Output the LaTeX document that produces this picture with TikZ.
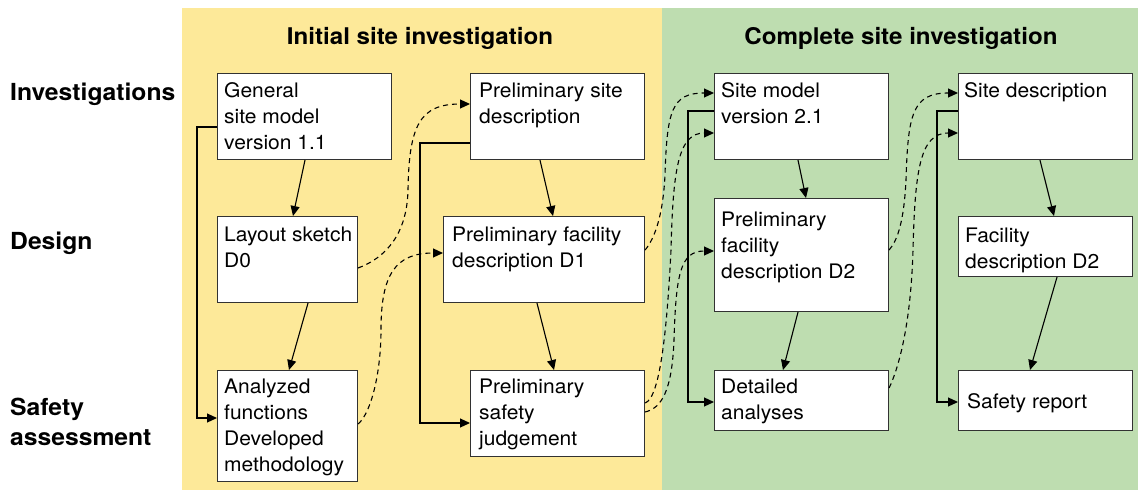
\documentclass[tikz,border=0pt]{standalone}
\usepackage{fontspec}
\setmainfont{TeX Gyre Heros}[FakeStretch=1.05]
\usetikzlibrary{arrows.meta,calc}
\definecolor{panelyellow}{RGB}{253,233,153}
\definecolor{panelgreen}{RGB}{190,221,176}
\definecolor{boxline}{RGB}{50,50,50}
\newcommand\boxtext[1]{\begin{tabular}[t]{@{}l@{}}#1\end{tabular}}

\begin{document}
\begin{tikzpicture}[x=1pt,y=-1pt,
  box/.style={draw=boxline, line width=1.1pt, fill=white, anchor=north west, inner sep=0pt},
  txt/.style={anchor=base west, inner sep=0pt, font=\fontsize{20}{26}\selectfont},
  head/.style={anchor=base, inner sep=0pt, font=\fontsize{23}{30}\selectfont\bfseries},
  rowlabel/.style={anchor=base west, inner sep=0pt, font=\fontsize{23.5}{30}\selectfont\bfseries},
  flow/.style={line width=1.1pt, -{Triangle[length=10pt,width=9pt]}},
  feed/.style={flow, line width=1.1pt, dash pattern=on 5pt off 4pt}]

\useasboundingbox (0,0) rectangle (1138,492);
\fill[white] (0,0) rectangle (1138,492);

% phase panels
\fill[panelyellow] (182,8) rectangle (662,490);
\fill[panelgreen] (662,8) rectangle (1138,490);

% headings
\node[head] (h1) at (420,45) {Initial site investigation};
\node[head] (h2) at (901,45) {Complete site investigation};
\node[rowlabel] (r1) at (10,101) {Investigations};
\node[rowlabel] (r2) at (10,249) {Design};
\node[rowlabel] (r3) at (10,415) {\boxtext{Safety\\assessment}};

% boxes
\node[box, minimum width=174pt, minimum height=86pt]  (gsm)  at (217,73)  {};
\node[box, minimum width=140pt, minimum height=86pt]  (ls)   at (217,216) {};
\node[box, minimum width=140pt, minimum height=111pt] (af)   at (217,370) {};
\node[box, minimum width=174pt, minimum height=86pt]  (psd)  at (470,73)  {};
\node[box, minimum width=201pt, minimum height=86pt]  (pfd1) at (443,216) {};
\node[box, minimum width=174pt, minimum height=86pt]  (psj)  at (470,370) {};
\node[box, minimum width=174pt, minimum height=86pt]  (sm2)  at (714,73)  {};
\node[box, minimum width=174pt, minimum height=113pt] (pfd2) at (714,198) {};
\node[box, minimum width=174pt, minimum height=60pt]  (da)   at (714,370) {};
\node[box, minimum width=174pt, minimum height=86pt]  (sd)   at (958,73)  {};
\node[box, minimum width=174pt, minimum height=60pt]  (fd2)  at (958,216) {};
\node[box, minimum width=174pt, minimum height=60pt]  (sr)   at (958,370) {};

% box texts
\node[txt] (gsm-t)  at ($(gsm.north west)+(7,25)$)  {\boxtext{General\\site model\\version 1.1}};
\node[txt] (ls-t)   at ($(ls.north west)+(7,25)$)   {\boxtext{Layout sketch\\D0}};
\node[txt] (af-t)   at ($(af.north west)+(7,23)$)   {\boxtext{Analyzed\\functions\\Developed\\methodology}};
\node[txt] (psd-t)  at ($(psd.north west)+(9,25)$)  {\boxtext{Preliminary site\\description}};
\node[txt] (pfd1-t) at ($(pfd1.north west)+(9,25)$) {\boxtext{Preliminary facility\\description D1}};
\node[txt] (psj-t)  at ($(psj.north west)+(9,23)$)  {\boxtext{Preliminary\\safety\\judgement}};
\node[txt] (sm2-t)  at ($(sm2.north west)+(7,25)$)  {\boxtext{Site model\\version 2.1}};
\node[txt] (pfd2-t) at ($(pfd2.north west)+(7,28)$) {\boxtext{Preliminary\\facility\\description D2}};
\node[txt] (da-t)   at ($(da.north west)+(7,23)$)   {\boxtext{Detailed\\analyses}};
\node[txt] (sd-t)   at ($(sd.north west)+(6,25)$)   {Site description};
\node[txt] (fd2-t)  at ($(fd2.north west)+(7,26)$)  {\boxtext{Facility\\description D2}};
\node[txt] (sr-t)   at ($(sr.north west)+(9,38)$)   {Safety report};

% main flow within each column
\draw[flow] ($(gsm.south west)+(88,0)$)  -- ($(ls.north west)+(76,0)$);
\draw[flow] ($(ls.south west)+(91,0)$)   -- ($(af.north west)+(72,0)$);
\draw[flow] ($(psd.south west)+(70,0)$)  -- ($(pfd1.north west)+(110,0)$);
\draw[flow] ($(pfd1.south west)+(94,0)$) -- ($(psj.north west)+(84,0)$);
\draw[flow] ($(sm2.south west)+(84,0)$)  -- ($(pfd2.north west)+(92,0)$);
\draw[flow] ($(pfd2.south west)+(84,0)$) -- ($(da.north west)+(69,0)$);
\draw[flow] ($(sd.south west)+(82,0)$)   -- ($(fd2.north west)+(96,0)$);
\draw[flow] ($(fd2.south west)+(99,0)$)  -- ($(sr.north west)+(72,0)$);

% site model feeds the safety work directly
\draw[flow] ($(gsm.north west)+(0,54)$) -| ($(af.north west)+(-20,48)$)  -- ($(af.north west)+(0,48)$);
\draw[flow] ($(psd.north west)+(0,70)$) -| ($(psj.north west)+(-50,53)$) -- ($(psj.north west)+(0,53)$);
\draw[flow] ($(sm2.north west)+(0,38)$) -| ($(da.north west)+(-26,32)$)  -- ($(da.north west)+(0,32)$);
\draw[flow] ($(sd.north west)+(0,38)$)  -| ($(sr.north west)+(-21,32)$)  -- ($(sr.north west)+(0,32)$);

% feedback to the next stage
\draw[feed] ($(ls.north east)+(0,52)$)
  .. controls (385,258) and (407,235) .. (408,190)
  .. controls (409,125) and (420,104) .. ($(psd.north west)+(0,31)$);
\draw[feed] ($(af.north east)+(0,54)$)
  .. controls (372,412) and (381,370) .. (381,330)
  .. controls (381,275) and (395,253) .. ($(pfd1.north west)+(0,37)$);
\draw[feed] ($(pfd1.north east)+(0,34)$)
  .. controls (655,238) and (663,215) .. (665,175)
  .. controls (667,110) and (672,93) .. ($(sm2.north west)+(0,20)$);
\draw[feed] ($(psj.north east)+(0,33)$)
  .. controls (660,398) and (667,330) .. (671,250)
  .. controls (673,170) and (678,133) .. ($(sm2.north west)+(0,60)$);
\draw[feed] ($(psj.north east)+(0,42)$)
  .. controls (662,408) and (672,390) .. (674,340)
  .. controls (676,275) and (680,251) .. ($(pfd2.north west)+(0,53)$);
\draw[feed] ($(pfd2.north east)+(0,52)$)
  .. controls (898,240) and (904,220) .. (906,180)
  .. controls (908,115) and (912,93) .. ($(sd.north west)+(0,20)$);
\draw[feed] ($(da.north east)+(0,18)$)
  .. controls (900,365) and (911,320) .. (913,250)
  .. controls (915,170) and (920,133) .. ($(sd.north west)+(0,60)$);
\end{tikzpicture}
\end{document}
